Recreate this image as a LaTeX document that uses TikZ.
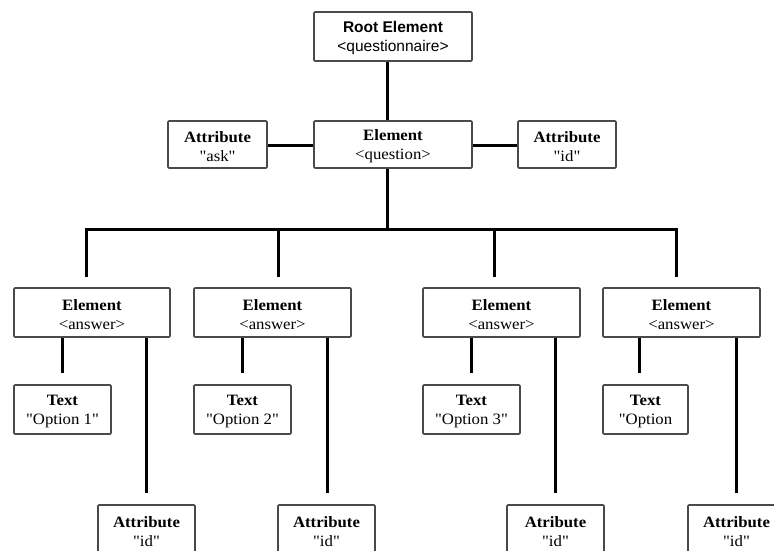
\documentclass[tikz,border=0pt]{standalone}
\usepackage{fontspec}
\setmainfont{Liberation Serif}[FakeStretch=1.06, Ligatures=TeXReset]
\newfontfamily\rootfont{Liberation Sans}[Ligatures=TeXReset]
\definecolor{boxgray}{HTML}{4a4a4a}
% strut that pushes the two text lines slightly lower in their box
\newcommand\topstrut{\rule{0pt}{15pt}}
\tikzset{
  xbox/.style={draw=boxgray, line width=1.6pt, rounded corners=1pt, fill=white,
    align=center, inner sep=0pt, font=\fontsize{15.8}{19}\selectfont},
  link/.style={draw=black, line width=3pt}
}
\begin{document}
\begin{tikzpicture}[x=1pt,y=-1pt]
  \clip (0,0) rectangle (774,550);
  \fill[white] (0,0) rectangle (774,550);

  % top levels
  \node[xbox, minimum width=158, minimum height=49, font=\rootfont\fontsize{15.5}{19}\selectfont]
    (root) at (393,36.5) {\topstrut\textbf{Root Element}\\<questionnaire>};
  \node[xbox, minimum width=158, minimum height=47] (question) at (393,144.5)
    {\topstrut\textbf{Element}\\<question>};
  \node[xbox, minimum width=99, minimum height=47] (ask) at (217.5,144.5)
    {\topstrut\textbf{Attribute}\\"ask"};
  \node[xbox, minimum width=98, minimum height=47] (qid) at (567,144.5)
    {\topstrut\textbf{Attribute}\\"id"};

  % answer elements
  \node[xbox, minimum width=156, minimum height=49] (ans1) at (92,312.5)
    {\topstrut\textbf{Element}\\<answer>};
  \node[xbox, minimum width=157, minimum height=49] (ans2) at (272.5,312.5)
    {\topstrut\textbf{Element}\\<answer>};
  \node[xbox, minimum width=157, minimum height=49] (ans3) at (501.5,312.5)
    {\topstrut\textbf{Element}\\<answer>};
  \node[xbox, minimum width=157, minimum height=49] (ans4) at (681.5,312.5)
    {\topstrut\textbf{Element}\\<answer>};

  % text children
  \node[xbox, minimum width=97, minimum height=49] (txt1) at (62.5,409.5)
    {\topstrut\textbf{Text}\\"Option 1"};
  \node[xbox, minimum width=97, minimum height=49] (txt2) at (242.5,409.5)
    {\topstrut\textbf{Text}\\"Option 2"};
  \node[xbox, minimum width=97, minimum height=49] (txt3) at (471.5,409.5)
    {\topstrut\textbf{Text}\\"Option 3"};
  \node[xbox, minimum width=85, minimum height=49] (txt4) at (645.5,409.5)
    {\topstrut\textbf{Text}\\"Option};

  % attribute children
  \node[xbox, minimum width=97, minimum height=50] (attr1) at (146.5,530)
    {\topstrut\textbf{Attribute}\\"id"};
  \node[xbox, minimum width=97, minimum height=50] (attr2) at (326.5,530)
    {\topstrut\textbf{Attribute}\\"id"};
  \node[xbox, minimum width=97, minimum height=50] (attr3) at (555.5,530)
    {\topstrut\textbf{Atribute}\\"id"};
  \node[xbox, minimum width=97, minimum height=50] (attr4) at (736.5,530)
    {\topstrut\textbf{Attribute}\\"id"};

  % trunk and bus
  \coordinate (trunk) at (387,229);
  \coordinate (d1) at (86,277);
  \coordinate (d2) at (278,277);
  \coordinate (d3) at (494,277);
  \coordinate (d4) at (676,277);
  \draw[link] (root.south -| trunk) -- (question.north -| trunk);
  \draw[link] (ask.east |- 0,145) -- (question.west |- 0,145);
  \draw[link] (question.east |- 0,145) -- (qid.west |- 0,145);
  \draw[link] (question.south -| trunk) -- (trunk);
  \draw[link] (d1) |- (trunk) -| (d4);
  \draw[link] (d2) -- (d2 |- trunk);
  \draw[link] (d3) -- (d3 |- trunk);

  % answer to text and attribute
  \coordinate (t1) at (62,373);  \coordinate (a1) at (146,493);
  \coordinate (t2) at (242,373); \coordinate (a2) at (327,493);
  \coordinate (t3) at (471,373); \coordinate (a3) at (555,493);
  \coordinate (t4) at (639,373); \coordinate (a4) at (736,493);
  \foreach \i in {1,2,3,4} {
    \draw[link] (t\i |- ans\i.south) -- (t\i);
    \draw[link] (a\i |- ans\i.south) -- (a\i);
  }
\end{tikzpicture}
\end{document}
